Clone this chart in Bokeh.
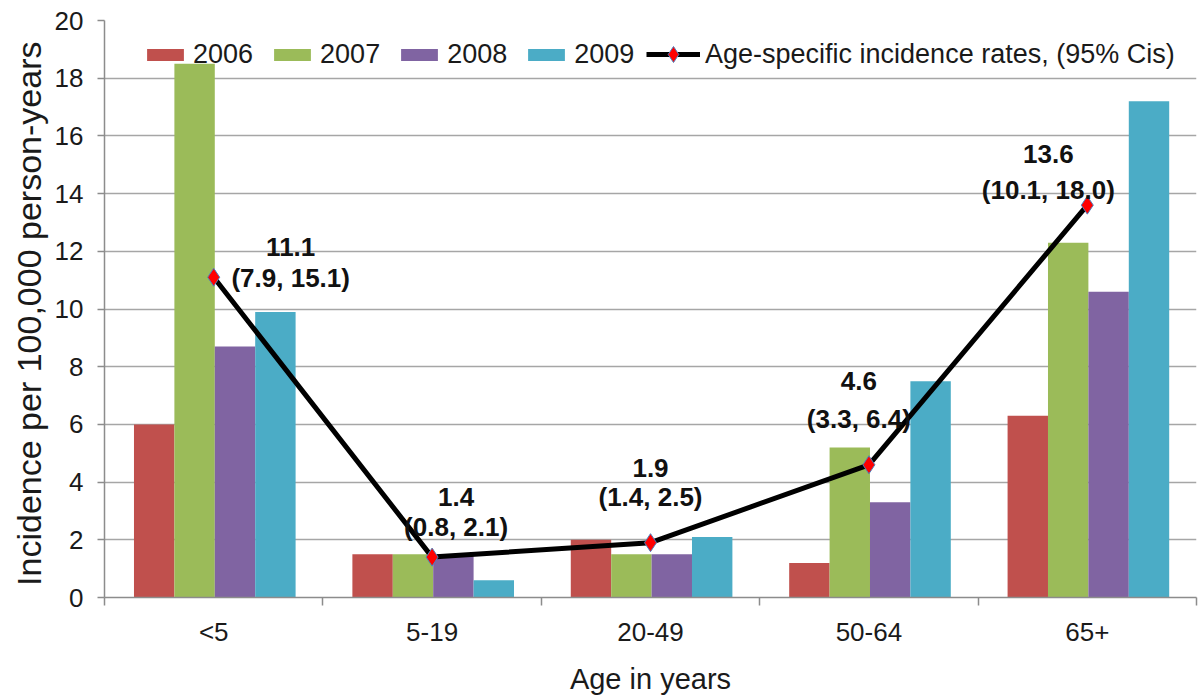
from bokeh.plotting import figure
from bokeh.models import ColumnDataSource, Range1d, FixedTicker, Legend, LegendItem
from bokeh.embed import file_html
from bokeh.resources import INLINE
from bokeh.core.properties import value
import numpy as np

# ---------------- data ----------------
age_groups = ["<5", "5-19", "20-49", "50-64", "65+"]
years = ["2006", "2007", "2008", "2009"]
inc_2006 = [6.0, 1.5, 2.0, 1.2, 6.3]
inc_2007 = [18.5, 1.5, 1.5, 5.2, 12.3]
inc_2008 = [8.7, 1.5, 1.5, 3.3, 10.6]
inc_2009 = [9.9, 0.6, 2.1, 7.5, 17.2]
rate = [11.1, 1.4, 1.9, 4.6, 13.6]
ci_low = [7.9, 0.8, 1.4, 3.3, 10.1]
ci_high = [15.1, 2.1, 2.5, 6.4, 18.0]
y_ticks = [0, 2, 4, 6, 8, 10, 12, 14, 16, 18, 20]
line_label = "Age-specific incidence rates, (95% Cis)"

# ---------------- styles ----------------
bar_colors = ["#C0504D", "#9BBB59", "#8064A2", "#4BACC6"]
reg = "Liberation Sans"
grid_col = "#A6A6A6"
axis_col = "#8C8C8C"
txt_col = "#1A1A1A"

p = figure(width=1201, height=697, output_backend="svg", toolbar_location=None,
           x_range=Range1d(0, len(age_groups)), y_range=Range1d(0, 20))
p.min_border_left = 104
p.min_border_right = 5
p.min_border_top = 20
p.min_border_bottom = 98
p.outline_line_color = None
p.background_fill_color = "white"

centers = np.arange(len(age_groups)) + 0.5
bar_w = 0.185
series = [inc_2006, inc_2007, inc_2008, inc_2009]
bar_renderers = []
for k, (yr, vals) in enumerate(zip(years, series)):
    xs = centers + (k - 1.5) * bar_w + 0.005
    src = ColumnDataSource(dict(x=xs, top=vals))
    r = p.vbar(x="x", top="top", width=bar_w, bottom=0, source=src,
               fill_color=bar_colors[k], line_color=None)
    bar_renderers.append(r)

pt_src = ColumnDataSource(dict(x=centers, y=rate))
ln = p.line(x="x", y="y", source=pt_src, line_color="black", line_width=5,
            line_join="round")
pts = p.scatter(x="x", y="y", source=pt_src, marker="diamond", size=18,
                fill_color="#FF0000", line_color="#4F81BD", line_width=1)

# data labels
rate_txt = [f"{v:.1f}" for v in rate]
ci_txt = [f"({a:.1f}, {b:.1f})" for a, b in zip(ci_low, ci_high)]
lab_dx = [77, 24, 0, -10, -39]
rate_dy = [-30, -60, -75, -84, -51]
ci_dy = [1, -30, -46, -46, -15]
lab_src = ColumnDataSource(dict(x=centers, y=rate, r=rate_txt, c=ci_txt,
                                dx=lab_dx, dyr=rate_dy, dyc=ci_dy))
for col, dy in (("r", "dyr"), ("c", "dyc")):
    p.text(x="x", y="y", text=col, x_offset="dx", y_offset=dy, source=lab_src,
           text_font=value(reg), text_font_style="bold", text_font_size="26px",
           text_color="#111111", text_align="center", text_baseline="middle")

# axes
p.xaxis.ticker = FixedTicker(ticks=list(centers), minor_ticks=list(range(len(age_groups) + 1)))
p.xaxis.major_label_overrides = {float(c): g for c, g in zip(centers, age_groups)}
p.xaxis.major_tick_line_color = None
p.xaxis.major_tick_out = 0
p.xaxis.minor_tick_out = 8
p.xaxis.minor_tick_in = 0
p.xaxis.minor_tick_line_color = axis_col
p.xaxis.minor_tick_line_width = 1.5
p.xaxis.axis_line_color = axis_col
p.xaxis.axis_line_width = 1.5
p.xaxis.major_label_text_font = reg
p.xaxis.major_label_text_font_size = "26px"
p.xaxis.major_label_text_color = txt_col
p.xaxis.major_label_standoff = 11
p.xaxis.axis_label = "Age in years"
p.xaxis.axis_label_text_font = reg
p.xaxis.axis_label_text_font_size = "29px"
p.xaxis.axis_label_text_font_style = "normal"
p.xaxis.axis_label_text_color = txt_col
p.xaxis.axis_label_standoff = 13
p.xgrid.grid_line_color = None

p.yaxis.ticker = FixedTicker(ticks=y_ticks)
p.yaxis.minor_tick_line_color = None
p.yaxis.major_tick_out = 7
p.yaxis.major_tick_in = 0
p.yaxis.major_tick_line_color = axis_col
p.yaxis.major_tick_line_width = 1.5
p.yaxis.axis_line_color = axis_col
p.yaxis.axis_line_width = 1.5
p.yaxis.major_label_text_font = reg
p.yaxis.major_label_text_font_size = "26px"
p.yaxis.major_label_text_color = txt_col
p.yaxis.major_label_standoff = 14
p.yaxis.axis_label = "Incidence  per 100,000 person-years"
p.yaxis.axis_label_text_font = reg
p.yaxis.axis_label_text_font_size = "34px"
p.yaxis.axis_label_text_font_style = "normal"
p.yaxis.axis_label_text_color = txt_col
p.yaxis.axis_label_standoff = 4
p.ygrid.ticker = FixedTicker(ticks=y_ticks)
p.ygrid.grid_line_color = grid_col
p.ygrid.grid_line_width = 1.5

# legends: bars, then the line (taller glyph box so the diamond shows)
bar_items = [LegendItem(label=yr, renderers=[r]) for yr, r in zip(years, bar_renderers)]
leg_bars = Legend(items=bar_items, orientation="horizontal", location=(38, 527),
                  label_text_font=reg, label_text_font_size="27px", label_text_color=txt_col,
                  glyph_width=46, glyph_height=15, label_standoff=5, spacing=16,
                  padding=4, margin=0, background_fill_alpha=0, border_line_color=None)
leg_line = Legend(items=[LegendItem(label=line_label, renderers=[ln, pts])],
                  orientation="horizontal", location=(542, 523),
                  label_text_font=reg, label_text_font_size="27px", label_text_color=txt_col,
                  glyph_width=54, glyph_height=40, label_standoff=5,
                  padding=4, margin=0, background_fill_alpha=0, border_line_color=None)
p.add_layout(leg_bars, "center")
p.add_layout(leg_line, "center")

open("out.html", "w").write(file_html(p, INLINE))
